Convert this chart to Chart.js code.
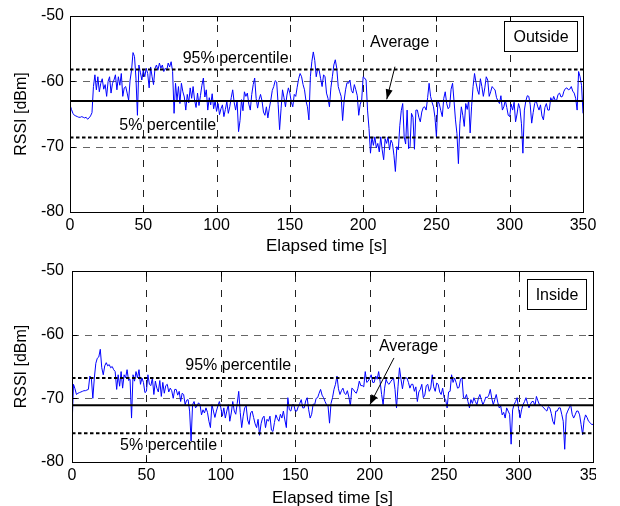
<!DOCTYPE html>
<html>
<head>
<meta charset="utf-8">
<script src="https://cdn.jsdelivr.net/npm/chart.js@4.4.1/dist/chart.umd.min.js"></script>
<style>
  body { margin: 0; background: #fff; }
  #wrap { position: relative; width: 620px; height: 506px; overflow: hidden; background: #fff; }
  canvas { position: absolute; left: 0; }
</style>
</head>
<body>
<div id="wrap">
  <canvas id="outside" width="620" height="262" style="top:0"></canvas>
  <canvas id="inside" width="596" height="260" style="top:255px"></canvas>
</div>
<script>
// one RSSI sample per second, 0..350 s
const timeStart = 0, timeEnd = 350, timeStep = 50, sampleStep = 1;
const rssiMin = -80, rssiMax = -50, rssiStep = 10;

const outsideRssi = [
  -63.6, -64.3, -64.9, -65.2, -65.3, -65.4, -65.5, -65.5, -65.4, -65.5,
  -65.6, -65.5, -65.8, -65.6, -65.3, -64.8, -60.8, -59.0, -61.3, -59.3,
  -61.6, -60.3, -59.6, -61.2, -60.5, -62.3, -60.0, -59.3, -61.8, -60.3,
  -59.8, -59.0, -61.3, -59.3, -60.6, -58.8, -62.3, -61.0, -60.8, -61.8,
  -62.9, -59.8, -58.3, -55.6, -56.2, -59.5, -65.2, -57.5, -58.6, -59.8,
  -58.3, -59.3, -58.0, -58.8, -61.0, -57.8, -59.3, -60.5, -58.0, -57.5,
  -58.3, -57.2, -58.0, -57.5, -58.5, -58.0, -58.3, -57.2, -57.8, -57.0,
  -58.5, -64.9, -60.3, -62.9, -60.8, -63.4, -60.3, -61.6, -62.4, -64.4,
  -62.0, -63.3, -61.0, -62.6, -60.8, -62.9, -64.0, -61.8, -63.7, -62.2,
  -60.6, -59.5, -62.4, -61.3, -64.4, -62.5, -63.6, -61.9, -64.2, -63.0,
  -64.6, -63.4, -65.1, -64.2, -63.6, -65.4, -64.3, -63.1, -64.9, -63.9,
  -62.5, -61.3, -63.2, -64.4, -63.0, -67.7, -66.0, -62.8, -64.5, -61.6,
  -62.3, -61.8, -63.5, -64.4, -62.0, -60.5, -59.5, -62.6, -64.1, -62.8,
  -62.0, -63.0, -64.7, -65.2, -63.9, -65.6, -64.1, -62.9, -61.4, -60.8,
  -59.9, -60.1, -63.5, -67.4, -64.2, -61.3, -62.5, -63.9, -62.1, -61.0,
  -61.8, -63.2, -63.9, -62.0, -62.3, -60.9, -59.6, -58.8, -59.3, -60.5,
  -61.3, -63.0, -63.9, -65.9, -59.3, -57.0, -55.5, -56.8, -59.3, -58.0,
  -58.3, -59.6, -60.8, -59.0, -59.3, -61.8, -62.6, -63.9, -61.0, -59.3,
  -57.5, -56.7, -58.0, -60.8, -61.6, -62.3, -66.0, -63.0, -61.3, -60.2,
  -60.3, -59.8, -61.4, -61.8, -60.5, -61.3, -62.2, -65.2, -63.5, -62.9,
  -59.3, -59.5, -59.8, -64.4, -67.2, -71.0, -68.5, -69.8, -68.5, -70.2,
  -69.5, -70.8, -68.5, -70.5, -72.0, -68.8, -69.5, -68.5, -70.5, -69.0,
  -69.5, -71.3, -73.8, -70.0, -70.5, -66.8, -64.5, -63.4, -68.5, -69.6,
  -64.4, -70.3, -70.0, -64.9, -65.5, -70.4, -64.4, -64.4, -65.5, -66.2,
  -64.7, -64.0, -63.9, -64.4, -62.5, -60.3, -62.3, -63.2, -63.9, -65.5,
  -68.5, -62.9, -63.5, -64.5, -65.4, -62.6, -61.6, -63.4, -64.2, -63.9,
  -61.2, -60.3, -63.0, -65.9, -68.0, -72.6, -66.5, -63.9, -65.2, -66.9,
  -63.4, -64.3, -62.9, -67.9, -63.8, -60.8, -58.8, -60.2, -61.3, -62.0,
  -59.6, -60.8, -62.3, -61.0, -59.3, -59.8, -62.3, -61.6, -60.8, -61.1,
  -61.3, -62.5, -63.0, -63.4, -62.2, -64.4, -63.9, -62.9, -64.0, -65.2,
  -65.4, -63.5, -64.4, -63.2, -66.2, -65.0, -63.4, -64.2, -66.5, -71.0,
  -64.4, -63.0, -62.2, -62.3, -63.6, -66.4, -64.8, -63.4, -62.9, -63.8,
  -64.4, -63.6, -65.3, -65.9, -64.0, -63.4, -64.4, -64.4, -62.5, -63.1,
  -62.3, -62.9, -62.9, -62.0, -61.8, -62.4, -62.3, -61.5, -61.1, -61.0,
  -61.3, -61.2, -60.8, -61.5, -61.8, -62.6, -64.4, -58.5, -59.3, -60.6,
  -64.9
];
const outsideP95 = -58.2, outsideAvg = -63.0, outsideP5 = -68.6;

const insideRssi = [
  -74.6, -67.8, -68.5, -69.4, -69.2, -69.1, -69.0, -68.9, -68.8, -68.8,
  -68.7, -68.6, -66.5, -66.8, -70.0, -66.8, -64.5, -63.7, -63.5, -62.3,
  -65.2, -66.3, -64.9, -64.4, -64.9, -64.7, -65.2, -65.0, -65.5, -65.8,
  -68.6, -66.3, -68.1, -65.8, -68.4, -66.3, -66.8, -65.5, -67.2, -67.0,
  -73.1, -66.3, -67.3, -65.8, -66.8, -65.5, -67.8, -66.8, -67.5, -69.1,
  -68.9, -66.3, -67.8, -68.0, -66.8, -69.4, -67.3, -68.4, -69.0, -67.2,
  -69.7, -67.5, -69.2, -68.0, -67.8, -69.0, -68.4, -68.8, -70.0, -68.6,
  -68.6, -69.5, -68.9, -70.5, -69.2, -69.4, -71.0, -70.3, -70.2, -72.0,
  -76.7, -71.0, -70.5, -71.5, -71.2, -70.7, -71.0, -72.6, -71.8, -72.3,
  -71.5, -72.2, -73.6, -74.6, -71.0, -72.0, -73.0, -72.0, -71.2, -70.5,
  -71.5, -72.8, -71.5, -73.1, -72.0, -71.0, -73.6, -72.3, -70.5, -72.0,
  -72.5, -70.8, -68.9, -72.2, -74.6, -72.8, -71.5, -71.2, -73.4, -74.1,
  -72.3, -72.0, -73.0, -74.0, -74.6, -73.3, -75.8, -74.0, -73.1, -72.8,
  -74.6, -73.3, -73.6, -72.8, -75.0, -75.2, -73.8, -72.6, -73.2, -73.6,
  -72.5, -73.1, -72.0, -73.4, -74.6, -69.9, -71.8, -72.0, -71.0, -71.0,
  -72.0, -72.0, -71.3, -70.8, -70.2, -71.5, -71.5, -70.4, -69.9, -71.8,
  -73.1, -72.5, -70.9, -71.0, -70.0, -69.9, -69.2, -68.6, -69.5, -69.9,
  -70.5, -71.0, -71.2, -73.9, -70.8, -69.9, -68.6, -67.8, -66.5, -68.5,
  -69.4, -68.8, -68.4, -69.2, -69.4, -68.8, -69.8, -71.2, -68.4, -68.6,
  -69.0, -69.2, -68.5, -67.3, -68.0, -68.0, -68.2, -65.8, -67.5, -67.3,
  -66.8, -66.3, -67.5, -67.5, -66.5, -67.0, -65.8, -67.4, -69.4, -71.0,
  -68.4, -67.0, -67.6, -67.8, -67.4, -67.1, -66.8, -68.6, -71.5, -68.2,
  -65.2, -67.0, -68.5, -67.0, -66.8, -66.8, -67.5, -68.4, -67.8, -67.8,
  -68.9, -68.2, -70.5, -69.0, -68.6, -67.8, -69.9, -69.5, -68.0, -67.8,
  -68.9, -68.4, -66.3, -68.2, -68.9, -67.6, -67.8, -69.0, -69.4, -68.4,
  -69.9, -70.2, -71.5, -69.0, -68.9, -66.3, -67.5, -66.8, -67.5, -68.4,
  -68.3, -67.0, -66.8, -69.9, -70.0, -69.4, -70.5, -71.5, -70.2, -70.8,
  -69.9, -70.5, -71.0, -70.0, -69.4, -70.2, -71.0, -70.5, -69.8, -69.9,
  -69.5, -68.6, -70.0, -71.0, -70.2, -69.4, -70.6, -71.5, -71.2, -72.6,
  -72.2, -73.1, -71.5, -72.0, -72.5, -77.2, -71.8, -71.0, -70.5, -69.9,
  -71.6, -73.1, -71.8, -71.0, -70.5, -69.9, -70.8, -71.5, -70.9, -70.5,
  -70.5, -71.2, -69.7, -70.4, -71.0, -71.0, -71.3, -71.5, -71.8, -72.0,
  -71.3, -71.5, -72.4, -73.6, -74.1, -72.0, -72.0, -71.5, -71.5, -72.5,
  -73.6, -78.0, -72.6, -72.0, -71.5, -71.0, -72.5, -73.1, -72.6, -72.0,
  -72.0, -72.6, -74.1, -75.7, -73.5, -72.6, -73.0, -73.6, -73.8, -74.1,
  -74.1
];
const insideP95 = -66.8, insideAvg = -71.1, insideP5 = -75.5;

const FONT = '"Liberation Sans", Arial, Helvetica, sans-serif';
Chart.defaults.font.family = FONT;
Chart.defaults.color = '#000';

function toPoints(arr) {
    return arr.map((v, i) => ({x: timeStart + i * sampleStep, y: v}));
}
function hLine(v) {
    return [{x: timeStart, y: v}, {x: timeEnd, y: v}];
}

// grid, frame, ticks and the text notes (matlab look)
const figurePlugin = {
    id: 'figure',
    beforeDatasetsDraw(chart) {
        const {ctx, chartArea: a, scales: {x, y}} = chart;
        ctx.save();
        ctx.lineWidth = 1;
        ctx.strokeStyle = '#222';
        ctx.setLineDash([7, 8]);
        x.ticks.forEach(t => {
            if (t.value <= timeStart || t.value >= timeEnd) return;
            const px = Math.round(x.getPixelForValue(t.value)) + 0.5;
            ctx.beginPath();
            ctx.moveTo(px, a.bottom);
            ctx.lineTo(px, a.top);
            ctx.stroke();
        });
        ctx.strokeStyle = '#666';
        ctx.setLineDash([7, 6]);
        y.ticks.forEach(t => {
            if (t.value <= rssiMin || t.value >= rssiMax) return;
            const py = Math.round(y.getPixelForValue(t.value)) + 0.5;
            ctx.beginPath();
            ctx.moveTo(a.left, py);
            ctx.lineTo(a.right, py);
            ctx.stroke();
        });
        ctx.restore();
    },
    afterDatasetsDraw(chart, args, opts) {
        const {ctx, chartArea: a, scales: {x, y}} = chart;
        ctx.save();
        ctx.setLineDash([]);
        ctx.strokeStyle = '#000';
        ctx.lineWidth = 1;
        const L = Math.round(a.left) + 0.5, R = Math.round(a.right) + 0.5;
        const T = Math.round(a.top) + 0.5, B = Math.round(a.bottom) + 0.5;
        ctx.strokeRect(L, T, R - L, B - T);
        // small inward tick marks
        ctx.beginPath();
        x.ticks.forEach(t => {
            const px = Math.round(x.getPixelForValue(t.value)) + 0.5;
            ctx.moveTo(px, B); ctx.lineTo(px, B - 5);
            ctx.moveTo(px, T); ctx.lineTo(px, T + 5);
        });
        y.ticks.forEach(t => {
            const py = Math.round(y.getPixelForValue(t.value)) + 0.5;
            ctx.moveTo(L, py); ctx.lineTo(L + 5, py);
            ctx.moveTo(R, py); ctx.lineTo(R - 5, py);
        });
        ctx.stroke();

        ctx.font = '16px ' + FONT;
        ctx.fillStyle = '#000';
        ctx.textBaseline = 'alphabetic';
        ctx.textAlign = 'left';
        opts.notes.forEach(n => {
            ctx.fillText(n.text, x.getPixelForValue(n.x), y.getPixelForValue(n.y));
        });

        // arrow to the average line
        const x1 = x.getPixelForValue(opts.arrow.from[0]), y1 = y.getPixelForValue(opts.arrow.from[1]);
        const x2 = x.getPixelForValue(opts.arrow.to[0]), y2 = y.getPixelForValue(opts.arrow.to[1]);
        ctx.beginPath();
        ctx.moveTo(x1, y1);
        ctx.lineTo(x2, y2);
        ctx.stroke();
        const ang = Math.atan2(y2 - y1, x2 - x1);
        const hl = 10, hw = 3.5;
        ctx.beginPath();
        ctx.moveTo(x2, y2);
        ctx.lineTo(x2 - hl * Math.cos(ang) + hw * Math.sin(ang), y2 - hl * Math.sin(ang) - hw * Math.cos(ang));
        ctx.lineTo(x2 - hl * Math.cos(ang) - hw * Math.sin(ang), y2 - hl * Math.sin(ang) + hw * Math.cos(ang));
        ctx.closePath();
        ctx.fill();

        // legend-like box
        const b = opts.box;
        const bx0 = Math.round(x.getPixelForValue(b.x0)) + 0.5, bx1 = Math.round(x.getPixelForValue(b.x1)) + 0.5;
        const by0 = Math.round(y.getPixelForValue(b.y0)) + 0.5, by1 = Math.round(y.getPixelForValue(b.y1)) + 0.5;
        ctx.fillStyle = '#fff';
        ctx.fillRect(bx0, by0, bx1 - bx0, by1 - by0);
        ctx.strokeRect(bx0, by0, bx1 - bx0, by1 - by0);
        ctx.fillStyle = '#000';
        ctx.textAlign = 'center';
        ctx.textBaseline = 'middle';
        ctx.fillText(b.text, (bx0 + bx1) / 2, (by0 + by1) / 2 + 1);
        ctx.restore();
    }
};

function makeChart(id, rssi, p95, avg, p5, geo, notes) {
    return new Chart(document.getElementById(id), {
        type: 'line',
        data: {
            datasets: [
                {data: hLine(p95), borderColor: '#000', borderWidth: 2, borderDash: [3.5, 2.5]},
                {data: hLine(p5), borderColor: '#000', borderWidth: 2, borderDash: [3.5, 2.5]},
                {data: hLine(avg), borderColor: '#000', borderWidth: 2},
                {data: toPoints(rssi), borderColor: '#0000ff', borderWidth: 1}
            ]
        },
        options: {
            responsive: false,
            animation: false,
            events: [],
            elements: {point: {radius: 0}, line: {tension: 0, fill: false}},
            layout: {padding: geo.padding},
            plugins: {legend: {display: false}, tooltip: {enabled: false}, figure: notes},
            scales: {
                x: {
                    type: 'linear', min: timeStart, max: timeEnd,
                    grid: {display: false, drawTicks: false},
                    border: {display: false},
                    ticks: {stepSize: timeStep, padding: geo.xTickPad, font: {size: 16}, color: '#000', maxRotation: 0, autoSkip: false},
                    title: {display: true, text: 'Elapsed time [s]', font: {size: 17}, color: '#000', padding: {top: 0, bottom: geo.xTitlePad}},
                    afterFit(s) { s.height = geo.xHeight; s.paddingLeft = 0; s.paddingRight = 0; }
                },
                y: {
                    type: 'linear', min: rssiMin, max: rssiMax,
                    grid: {display: false, drawTicks: false},
                    border: {display: false},
                    ticks: {stepSize: rssiStep, padding: geo.yTickPad, font: {size: 16}, color: '#000'},
                    title: {display: true, text: 'RSSI [dBm]', font: {size: 16}, color: '#000', padding: {top: geo.yTitlePad, bottom: 0}},
                    afterFit(s) { s.width = geo.yWidth; s.paddingTop = 0; s.paddingBottom = 0; }
                }
            }
        },
        plugins: [figurePlugin]
    });
}

makeChart('outside', outsideRssi, outsideP95, outsideAvg, outsideP5,
    {padding: {left: 0, top: 16, right: 37, bottom: 0}, xHeight: 50, yWidth: 70,
     xTickPad: 4, xTitlePad: 5, yTickPad: 6, yTitlePad: 12},
    {
        notes: [
            {text: '95% percentile', x: 76.9, y: -57.25},
            {text: '5% percentile', x: 33.6, y: -67.45},
            {text: 'Average', x: 204.7, y: -54.8}
        ],
        arrow: {from: [221.7, -57.76], to: [216.1, -62.75]},
        box: {text: 'Outside', x0: 296.3, x1: 345.7, y0: -50.77, y1: -55.31}
    });

makeChart('inside', insideRssi, insideP95, insideAvg, insideP5,
    {padding: {left: 0, top: 16, right: 3, bottom: 0}, xHeight: 53, yWidth: 72,
     xTickPad: 4, xTitlePad: 6, yTickPad: 8, yTitlePad: 12},
    {
        notes: [
            {text: '95% percentile', x: 76.1, y: -65.55},
            {text: '5% percentile', x: 32.3, y: -78.18},
            {text: 'Average', x: 206.2, y: -62.52}
        ],
        arrow: {from: [216.3, -63.66], to: [200.1, -71.0]},
        box: {text: 'Inside', x0: 305.6, x1: 345.3, y0: -51.26, y1: -55.97}
    });
</script>
</body>
</html>
